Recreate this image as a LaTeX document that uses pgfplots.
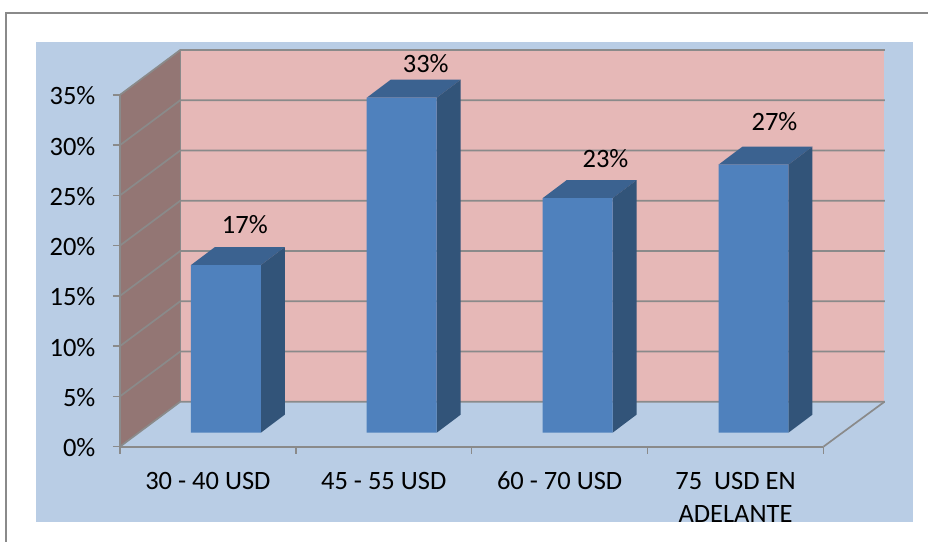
\documentclass[border=0pt]{standalone}
\usepackage{pgfplots}
\usepackage{pgfplotstable}
\usepackage{fontspec}
\setmainfont{Carlito}
\pgfplotsset{compat=1.18}

\definecolor{panel}{HTML}{B9CDE5}
\definecolor{backwall}{HTML}{E6B8B7}
\definecolor{sidewall}{HTML}{937674}
\definecolor{gridgray}{HTML}{8A8A8A}
\definecolor{barfront}{HTML}{4F81BD}
\definecolor{barside}{HTML}{325479}
\definecolor{bartop}{HTML}{3B6290}

\tikzset{
  barshift/.style={xshift=18pt,yshift=14pt},
  lab/.style={font=\fontsize{26.5}{30}\selectfont},
}
\newcommand{\st}{\rule{0pt}{18pt}}

% percent of answers per price range
\pgfplotstableread{
x    pct
0.5  16.67
1.5  33.33
2.5  23.33
3.5  26.67
}\prices

\begin{document}
\begin{tikzpicture}[x=1pt,y=1pt]
% page, frame, chart area (1pt = 1px of the reference)
\fill[white] (0,0) rectangle (929,542);
\draw[gridgray,line width=1.3pt] (6,0) -- (6,529) -- (929,529);
\fill[panel] (36,20) rectangle (914,500);
\path[use as bounding box] (0,0) rectangle (929,542);

\begin{axis}[
    at={(120pt,95pt)}, anchor=south west,
    scale only axis, width=704pt, height=352pt,
    xmin=0, xmax=4, ymin=0, ymax=35,
    clip=false,
    axis x line*=bottom, axis y line*=left,
    axis line style={gridgray,line width=1.7pt,-},
    tick style={gridgray,line width=1.5pt},
    tick align=outside, major tick length=7pt,
    axis on top=true,
    xtick={0,1,2,3,4},
    x tick label as interval,
    xticklabels={\st 30 - 40 USD,\st 45 - 55 USD,\st 60 - 70 USD,\st 75\ \ USD EN\\ADELANTE},
    x tick label style={font=\fontsize{26.5}{33}\selectfont,align=center,yshift=-14pt,anchor=north},
    ytick={0,5,10,15,20,25,30,35},
    yticklabels={0\%,5\%,10\%,15\%,20\%,25\%,30\%,35\%},
    y tick label style={font=\fontsize{26.5}{30}\selectfont,xshift=-14pt,yshift=-1pt},
]
% walls
\addplot[fill=backwall,draw=none] coordinates {(0.343,4.47)(4.343,4.47)(4.343,39.47)(0.343,39.47)} --cycle;
\addplot[fill=sidewall,draw=none] coordinates {(0,0)(0.343,4.47)(0.343,39.47)(0,35)} --cycle;
% gridlines on side and back wall
\foreach \v in {0,5,...,35}{
  \edef\tmp{\noexpand\addplot[gridgray,line width=1.7pt] coordinates {(0,\v)(0.343,\v+4.47)(4.35,\v+4.47)};}
  \tmp
}
\addplot[gridgray,line width=1pt] coordinates {(0.343,4.47)(0.343,39.47)};
\addplot[gridgray,line width=1.7pt] coordinates {(4,0)(4.347,4.47)};
% bar tops and sides, then the fronts
\addplot[barshift,fill=bartop,draw=none] coordinates {(0.301,16.67)(0.437,18.46)(0.835,18.46)(0.699,16.67)} --cycle;
\addplot[barshift,fill=barside,draw=none] coordinates {(0.699,0)(0.835,1.79)(0.835,18.46)(0.699,16.67)} --cycle;
\addplot[barshift,fill=bartop,draw=none] coordinates {(1.301,33.33)(1.437,35.12)(1.835,35.12)(1.699,33.33)} --cycle;
\addplot[barshift,fill=barside,draw=none] coordinates {(1.699,0)(1.835,1.79)(1.835,35.12)(1.699,33.33)} --cycle;
\addplot[barshift,fill=bartop,draw=none] coordinates {(2.301,23.33)(2.437,25.12)(2.835,25.12)(2.699,23.33)} --cycle;
\addplot[barshift,fill=barside,draw=none] coordinates {(2.699,0)(2.835,1.79)(2.835,25.12)(2.699,23.33)} --cycle;
\addplot[barshift,fill=bartop,draw=none] coordinates {(3.301,26.67)(3.437,28.46)(3.835,28.46)(3.699,26.67)} --cycle;
\addplot[barshift,fill=barside,draw=none] coordinates {(3.699,0)(3.835,1.79)(3.835,28.46)(3.699,26.67)} --cycle;
\addplot[barshift,ybar,bar width=70pt,fill=barfront,draw=none] table[x=x,y=pct] {\prices};
% value labels
\node[lab] at (axis cs:0.710,22.13) {17\%};
\node[lab] at (axis cs:1.739,38.07) {33\%};
\node[lab] at (axis cs:2.761,28.63) {23\%};
\node[lab] at (axis cs:3.722,32.31) {27\%};
\end{axis}
% the long label is cut off by the edge of the chart area
\fill[white] (30,7) rectangle (920,20);
\end{tikzpicture}
\end{document}
